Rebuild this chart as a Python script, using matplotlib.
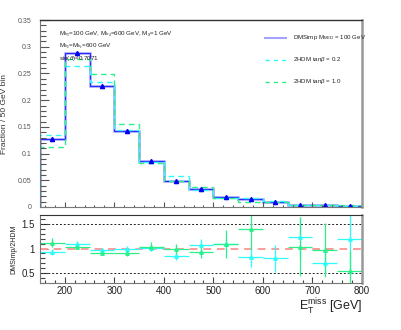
import numpy as np
import matplotlib
matplotlib.use('Agg')
import matplotlib.pyplot as plt
from matplotlib.ticker import MultipleLocator

plt.rcParams['font.family'] = ['Liberation Sans', 'DejaVu Sans']
plt.rcParams['mathtext.fontset'] = 'custom'
plt.rcParams['mathtext.rm'] = 'Liberation Sans'
plt.rcParams['mathtext.it'] = 'Liberation Sans:italic'

# binning (GeV)
edges = np.arange(150, 801, 50)
centers = (edges[:-1] + edges[1:]) / 2

# fraction per 50 GeV bin
dmsimp = [0.127, 0.2875, 0.227, 0.1426, 0.0867, 0.0484, 0.034,
          0.0177, 0.014, 0.009, 0.0045, 0.003, 0.002]
dmsimp_err = [0.004, 0.005, 0.004, 0.003, 0.003, 0.002, 0.002,
              0.0015, 0.0015, 0.001, 0.001, 0.001, 0.001]
thdm_02 = [0.135, 0.264, 0.235, 0.145, 0.085, 0.057, 0.032,
           0.0165, 0.017, 0.011, 0.0035, 0.004, 0.0017]
thdm_10 = [0.112, 0.278, 0.249, 0.156, 0.083, 0.049, 0.037,
           0.0163, 0.010, 0.010, 0.0043, 0.003, 0.0037]

# ratio DMSimp / 2HDM
ratio_02 = [0.92, 1.09, 0.97, 0.98, 1.01, 0.84, 1.07,
            1.09, 0.83, 0.80, 1.23, 0.71, 1.19]
ratio_02_err = [0.06, 0.06, 0.05, 0.07, 0.07, 0.08, 0.12,
                0.12, 0.20, 0.28, 0.40, 0.25, 0.70]
ratio_10 = [1.12, 1.04, 0.91, 0.91, 1.04, 0.98, 0.92,
            1.09, 1.40, np.nan, 1.04, 0.97, 0.54]
ratio_10_err = [0.09, 0.05, 0.05, 0.06, 0.09, 0.12, 0.12,
                0.28, 0.40, 0.0, 0.60, 0.55, 0.40]

blue = '#2b2bff'
lav = '#a3a3ff'
cyan = '#2dfcfc'
green = '#2af08a'

fig = plt.figure(figsize=(4.02, 3.30), dpi=100)
ax = fig.add_axes([0.0995, 0.373, 0.801, 0.566])
rx = fig.add_axes([0.0995, 0.1424, 0.801, 0.2061])

# top panel
ax.stairs(dmsimp, edges, baseline=0, color=lav, lw=1.8)
ax.stairs(dmsimp, edges, baseline=0, color=blue, lw=0.8)
ax.stairs(thdm_02, edges, baseline=0, color=cyan, lw=1.0, ls=(0, (4, 3)))
ax.stairs(thdm_10, edges, baseline=0, color=green, lw=1.0, ls=(0, (4, 3)))
ax.errorbar(centers, dmsimp, yerr=dmsimp_err, fmt='^', color='#0000ee',
            ms=3, elinewidth=0.8, capsize=0)

ax.set_xlim(150, 800)
ax.set_ylim(0, 0.35)
ax.xaxis.set_major_locator(MultipleLocator(100))
ax.xaxis.set_minor_locator(MultipleLocator(20))
ax.yaxis.set_minor_locator(MultipleLocator(0.01))
ax.set_xticklabels([])
ax.set_yticks([0, 0.05, 0.1, 0.15, 0.2, 0.25, 0.3, 0.35])
ax.set_yticklabels(['0', '0.05', '0.1', '0.15', '0.2', '0.25', '0.3', '0.35'])
ax.tick_params(axis='y', which='major', direction='in', length=6.5,
               width=0.8, labelsize=5, colors='#555555', pad=6)
ax.tick_params(axis='y', which='minor', direction='in', length=4,
               width=0.8, colors='#555555')
ax.tick_params(axis='x', which='major', direction='in', length=3.5,
               width=0.8, colors='#555555')
ax.tick_params(axis='x', which='minor', direction='in', length=1.8,
               width=0.8, colors='#555555')
for s in ['left', 'bottom']:
    ax.spines[s].set_color('#777777')
ax.spines['top'].set_color('#333333')
ax.spines['top'].set_linewidth(1.0)
ax.spines['right'].set_color('#999999')
ax.spines['right'].set_linewidth(1.8)
ax.set_ylabel('Fraction / 50 GeV bin', fontsize=6, color='#333333', labelpad=7)

ax.text(0.06, 0.95, r'M$_{h_3}$=100 GeV, M$_{h_4}$=600 GeV, M$_{\chi}$=1 GeV',
        transform=ax.transAxes, fontsize=4.5, va='top', color='#222222')
ax.text(0.06, 0.885, r'M$_{h_2}$=M$_{h_c}$=600 GeV',
        transform=ax.transAxes, fontsize=4.5, va='top', color='#222222')
ax.text(0.06, 0.82, r'sin($\theta$)=0.7071',
        transform=ax.transAxes, fontsize=4.5, va='top', color='#222222')

# legend drawn by hand in axes coords
leg = [('DMSimp M$_{\\mathrm{MED}}$ = 100 GeV', lav, '-', 1.5),
       ('2HDM tan$\\beta$ = 0.2', cyan, (0, (3, 3)), 1.0),
       ('2HDM tan$\\beta$ = 1.0', green, (0, (3, 3)), 1.0)]
for i, (lab, c, ls, lw) in enumerate(leg):
    yy = 0.905 - i * 0.117
    ax.plot([0.70, 0.765], [yy, yy], color=c, ls=ls, lw=lw,
            transform=ax.transAxes)
    ax.text(0.785, yy, lab, transform=ax.transAxes, fontsize=4.4,
            va='center', color='#222222')

# ratio panel
rx.axhline(1.0, color='#ff9a9a', lw=1.4, ls=(0, (4, 3)))
rx.axhline(0.5, color='#222222', lw=0.7, ls=(0, (2, 2)))
rx.axhline(1.5, color='#222222', lw=0.7, ls=(0, (2, 2)))
rx.errorbar(centers, ratio_02, xerr=25, yerr=ratio_02_err, fmt='^',
            color=cyan, ms=2.5, elinewidth=0.9, capsize=0)
rx.errorbar(centers, ratio_10, xerr=25, yerr=ratio_10_err, fmt='^',
            color=green, ms=2.5, elinewidth=0.9, capsize=0)
rx.set_xlim(150, 800)
rx.set_ylim(0.3, 1.68)
rx.xaxis.set_major_locator(MultipleLocator(100))
rx.xaxis.set_minor_locator(MultipleLocator(20))
rx.set_yticks([0.5, 1, 1.5])
rx.set_yticklabels(['0.5', '1', '1.5'])
rx.yaxis.set_minor_locator(MultipleLocator(0.1))
rx.tick_params(axis='both', which='major', direction='in', labelsize=7,
               colors='#444444', width=0.8)
rx.tick_params(axis='y', which='major', length=6)
rx.tick_params(axis='y', which='minor', direction='in', length=3.5,
               width=0.8, colors='#444444')
rx.tick_params(axis='x', which='major', length=4, pad=2)
rx.tick_params(axis='x', which='minor', direction='in', length=2,
               width=0.8, colors='#444444')
for lbl in rx.get_xticklabels() + rx.get_yticklabels():
    lbl.set_color('#222222')
for s in ['left', 'bottom']:
    rx.spines[s].set_color('#777777')
rx.spines['top'].set_color('#333333')
rx.spines['right'].set_color('#999999')
rx.spines['right'].set_linewidth(1.8)
rx.set_ylabel('DMSimp/2HDM', fontsize=5, color='#222222', labelpad=3)
rx.set_xlabel(r'E$_{\mathrm{T}}^{\mathrm{miss}}$ [GeV]', fontsize=9,
              color='#222222', loc='right', labelpad=1)

fig.savefig('out.png', dpi=100)
